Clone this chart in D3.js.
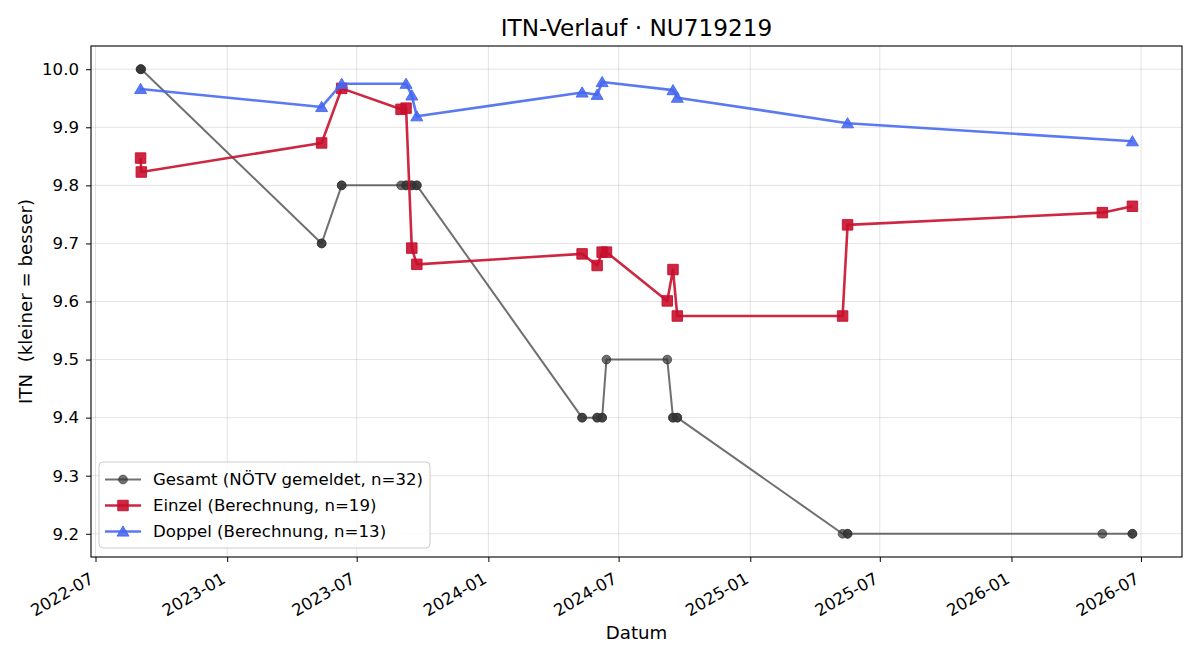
<!DOCTYPE html>
<html lang="de">

<head>
    <meta charset="UTF-8">
    <title>ITN-Verlauf</title>
    <script src="https://cdn.jsdelivr.net/npm/d3@7"></script>
    <style>
        body { margin: 0; background: #fff; }
        svg { font-family: "DejaVu Sans", sans-serif; }
    </style>
</head>

<body>
    <script type="text/javascript">
    // Gesamt = NÖTV gemeldeter Wert an jedem Spieltag (Einzel + Doppel)
    var gesamtDates = ["2022-09-02", "2022-09-02", "2022-09-03", "2023-05-13", "2023-05-13",
        "2023-06-10", "2023-06-10", "2023-09-01", "2023-09-08", "2023-09-08", "2023-09-16",
        "2023-09-16", "2023-09-23", "2023-09-23", "2024-05-11", "2024-05-11", "2024-06-01",
        "2024-06-01", "2024-06-08", "2024-06-08", "2024-06-14", "2024-09-07", "2024-09-15",
        "2024-09-15", "2024-09-21", "2024-09-21", "2025-05-10", "2025-05-17", "2025-05-17",
        "2026-05-08", "2026-06-19", "2026-06-19"];
    var gesamtValues = [10.0, 10.0, 10.0, 9.7, 9.7,
        9.8, 9.8, 9.8, 9.8, 9.8, 9.8,
        9.8, 9.8, 9.8, 9.4, 9.4, 9.4,
        9.4, 9.4, 9.4, 9.5, 9.5, 9.4,
        9.4, 9.4, 9.4, 9.2, 9.2, 9.2,
        9.2, 9.2, 9.2];

    var einzelDates = ["2022-09-02", "2022-09-03", "2023-05-13", "2023-06-10", "2023-09-01",
        "2023-09-08", "2023-09-16", "2023-09-23", "2024-05-11", "2024-06-01", "2024-06-08",
        "2024-06-14", "2024-09-07", "2024-09-15", "2024-09-21", "2025-05-10", "2025-05-17",
        "2026-05-08", "2026-06-19"];
    var einzelValues = [9.847, 9.823, 9.873, 9.967, 9.931,
        9.933, 9.692, 9.664, 9.682, 9.662, 9.685,
        9.685, 9.601, 9.655, 9.575, 9.575, 9.732,
        9.753, 9.764];

    var doppelDates = ["2022-09-02", "2023-05-13", "2023-06-10", "2023-09-08", "2023-09-16",
        "2023-09-23", "2024-05-11", "2024-06-01", "2024-06-08", "2024-09-15", "2024-09-21",
        "2025-05-17", "2026-06-19"];
    var doppelValues = [9.966, 9.935, 9.975, 9.975, 9.955,
        9.919, 9.960, 9.956, 9.978, 9.964, 9.951,
        9.907, 9.876];

    var xTickLabels = ["2022-07", "2023-01", "2023-07", "2024-01", "2024-07",
        "2025-01", "2025-07", "2026-01", "2026-07"];
    var yTicks = [9.2, 9.3, 9.4, 9.5, 9.6, 9.7, 9.8, 9.9, 10.0];

    var w = 1200,
        h = 660,
        plotLeft = 91,
        plotRight = 1182,
        plotTop = 46,
        plotBottom = 557;

    var parseDate = d3.utcParse("%Y-%m-%d"),
        parseMonth = d3.utcParse("%Y-%m");

    function toPoints(dates, values) {
        return dates.map(function(d, i) {
            return { date: parseDate(d), value: values[i] };
        });
    }

    var series = [
        { name: "Gesamt (NÖTV gemeldet, n=32)", data: toPoints(gesamtDates, gesamtValues),
          color: "#333333", opacity: 0.7, width: 2, marker: "circle" },
        { name: "Einzel (Berechnung, n=19)", data: toPoints(einzelDates, einzelValues),
          color: "#c8102e", opacity: 0.9, width: 2.6, marker: "square" },
        { name: "Doppel (Berechnung, n=13)", data: toPoints(doppelDates, doppelValues),
          color: "#4466ee", opacity: 0.88, width: 2.6, marker: "triangle" }
    ];

    // matplotlib-like 5% margins
    var allDates = [].concat(gesamtDates, einzelDates, doppelDates).map(parseDate);
    var allValues = [].concat(gesamtValues, einzelValues, doppelValues);
    var dExt = d3.extent(allDates), vExt = d3.extent(allValues);
    var dPad = (dExt[1] - dExt[0]) * 0.05, vPad = (vExt[1] - vExt[0]) * 0.05;

    var x = d3.scaleUtc()
        .domain([new Date(+dExt[0] - dPad), new Date(+dExt[1] + dPad)])
        .range([plotLeft, plotRight]);

    var y = d3.scaleLinear()
        .domain([vExt[0] - vPad, vExt[1] + vPad])
        .range([plotBottom, plotTop]);

    var svg = d3.select("body")
        .append("svg")
        .attr("width", w)
        .attr("height", h);

    // grid
    var xTicks = xTickLabels.map(function(d) { return parseMonth(d); });

    svg.append("g")
        .selectAll("line")
        .data(xTicks)
        .enter()
        .append("line")
        .attr("x1", function(d) { return x(d); })
        .attr("x2", function(d) { return x(d); })
        .attr("y1", plotTop)
        .attr("y2", plotBottom)
        .attr("stroke", "#b0b0b0")
        .attr("stroke-opacity", 0.35)
        .attr("stroke-width", 1);

    svg.append("g")
        .selectAll("line")
        .data(yTicks)
        .enter()
        .append("line")
        .attr("x1", plotLeft)
        .attr("x2", plotRight)
        .attr("y1", function(d) { return y(d); })
        .attr("y2", function(d) { return y(d); })
        .attr("stroke", "#b0b0b0")
        .attr("stroke-opacity", 0.35)
        .attr("stroke-width", 1);

    function markerPath(type) {
        if (type === "square") return d3.symbol(d3.symbolSquare, 110)();
        if (type === "triangle") return "M0,-5.6L6,4.6L-6,4.6Z";
        return d3.symbol(d3.symbolCircle, 60)();
    }

    var line = d3.line()
        .x(function(d) { return x(d.date); })
        .y(function(d) { return y(d.value); });

    series.forEach(function(s) {
        var g = svg.append("g");
        g.append("path")
            .datum(s.data)
            .attr("d", line)
            .attr("fill", "none")
            .attr("stroke", s.color)
            .attr("stroke-opacity", s.opacity)
            .attr("stroke-width", s.width)
            .attr("stroke-linejoin", "round");

        g.selectAll("path.mark")
            .data(s.data)
            .enter()
            .append("path")
            .attr("class", "mark")
            .attr("d", markerPath(s.marker))
            .attr("transform", function(d) {
                return "translate(" + x(d.date) + "," + y(d.value) + ")";
            })
            .attr("fill", s.color)
            .attr("fill-opacity", s.opacity)
            .attr("stroke", s.color)
            .attr("stroke-opacity", s.opacity)
            .attr("stroke-width", 1);
    });

    // axes
    var xAxis = svg.append("g")
        .attr("transform", "translate(0," + plotBottom + ")")
        .call(d3.axisBottom(x)
            .tickValues(xTicks)
            .tickSize(5)
            .tickFormat(d3.utcFormat("%Y-%m")));

    xAxis.select(".domain").remove();
    xAxis.selectAll("line").attr("stroke", "#000").attr("stroke-width", 1);
    xAxis.selectAll("text")
        .attr("font-family", "DejaVu Sans, sans-serif")
        .attr("font-size", "16.6px")
        .attr("fill", "#000")
        .attr("text-anchor", "end")
        .attr("dy", null)
        .attr("y", 0)
        .attr("transform", "translate(-1,25) rotate(-30)");

    var yAxis = svg.append("g")
        .attr("transform", "translate(" + plotLeft + ",0)")
        .call(d3.axisLeft(y)
            .tickValues(yTicks)
            .tickSize(5)
            .tickPadding(7)
            .tickFormat(d3.format(".1f")));

    yAxis.select(".domain").remove();
    yAxis.selectAll("line").attr("stroke", "#000").attr("stroke-width", 1);
    yAxis.selectAll("text")
        .attr("font-family", "DejaVu Sans, sans-serif")
        .attr("font-size", "16.6px")
        .attr("fill", "#000");

    // frame
    svg.append("rect")
        .attr("x", plotLeft)
        .attr("y", plotTop)
        .attr("width", plotRight - plotLeft)
        .attr("height", plotBottom - plotTop)
        .attr("fill", "none")
        .attr("stroke", "#000")
        .attr("stroke-width", 1.1);

    // titles
    svg.append("text")
        .text("ITN-Verlauf · NU719219")
        .attr("x", (plotLeft + plotRight) / 2)
        .attr("y", 36)
        .attr("text-anchor", "middle")
        .attr("font-size", "23.2px")
        .attr("fill", "#000");

    svg.append("text")
        .text("Datum")
        .attr("x", (plotLeft + plotRight) / 2)
        .attr("y", 639)
        .attr("text-anchor", "middle")
        .attr("font-size", "18.2px")
        .attr("fill", "#000");

    svg.append("text")
        .text("ITN  (kleiner = besser)")
        .attr("transform", "translate(32," + (plotTop + plotBottom) / 2 + ") rotate(-90)")
        .attr("text-anchor", "middle")
        .attr("font-size", "18.2px")
        .attr("fill", "#000")
        .style("white-space", "pre");

    // legend
    var legend = svg.append("g")
        .attr("transform", "translate(99,462)");

    legend.append("rect")
        .attr("width", 331)
        .attr("height", 86)
        .attr("rx", 4)
        .attr("fill", "#fff")
        .attr("fill-opacity", 0.8)
        .attr("stroke", "#cccccc")
        .attr("stroke-width", 1);

    var items = legend.selectAll("g.item")
        .data(series)
        .enter()
        .append("g")
        .attr("class", "item")
        .attr("transform", function(d, i) {
            return "translate(0," + (17.5 + i * 26) + ")";
        });

    items.append("line")
        .attr("x1", 6)
        .attr("x2", 42)
        .attr("stroke", function(d) { return d.color; })
        .attr("stroke-opacity", function(d) { return d.opacity; })
        .attr("stroke-width", function(d) { return d.width; });

    items.append("path")
        .attr("d", function(d) { return markerPath(d.marker); })
        .attr("transform", "translate(24,0)")
        .attr("fill", function(d) { return d.color; })
        .attr("fill-opacity", function(d) { return d.opacity; })
        .attr("stroke", function(d) { return d.color; })
        .attr("stroke-opacity", function(d) { return d.opacity; });

    items.append("text")
        .text(function(d) { return d.name; })
        .attr("x", 54)
        .attr("y", 5.8)
        .attr("font-size", "16.6px")
        .attr("fill", "#000");
    </script>
</body>

</html>
